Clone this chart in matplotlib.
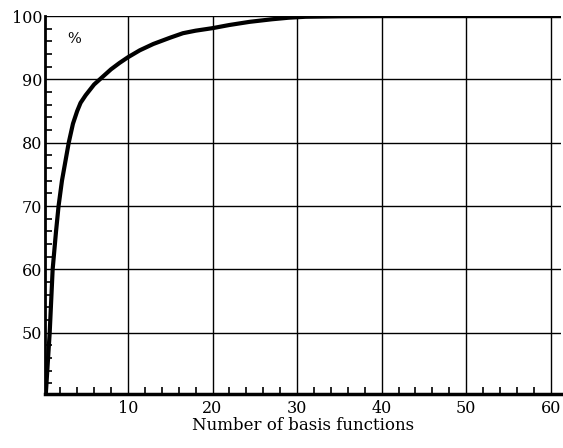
import numpy as np
import matplotlib.pyplot as plt
from matplotlib.ticker import MultipleLocator

# cumulative percentage vs number of basis functions
n_basis = [0.3, 0.75, 1.1, 1.5, 1.8, 2.2, 2.6, 3.0, 3.5, 4.0, 4.4, 5, 6, 7, 8, 9, 10,
           11.4, 13, 15, 16.5, 18, 20, 22, 24.4, 27, 29, 31, 35, 40, 50, 61.2]
percent = [40.5, 50, 60, 66, 70, 74, 77, 80, 83, 85, 86.3, 87.5, 89.2, 90.4, 91.6, 92.6, 93.5,
           94.6, 95.6, 96.6, 97.3, 97.7, 98.1, 98.6, 99.1, 99.5, 99.75, 99.9, 99.97, 100, 100, 100]

x_ticks = [10, 20, 30, 40, 50, 60]
y_ticks = [50, 60, 70, 80, 90, 100]

plt.rcParams['font.family'] = ['DejaVu Serif']

fig = plt.figure(figsize=(5.63, 4.48), dpi=100)
ax = fig.add_axes([0.080, 0.1205, 0.9164, 0.8435])

ax.plot(n_basis, percent, color='black', lw=3.0, solid_capstyle='round', zorder=3)

ax.set_xlim(0.2, 61.2)
ax.set_ylim(40.3, 100)
ax.set_xticks(x_ticks)
ax.set_yticks(y_ticks)
ax.xaxis.set_minor_locator(MultipleLocator(2))
ax.yaxis.set_minor_locator(MultipleLocator(2))
ax.grid(True, which='major', color='black', lw=1.0)

ax.tick_params(which='major', length=0, labelsize=11.5, pad=4)
ax.tick_params(axis='y', which='major', pad=2)
ax.tick_params(which='minor', direction='in', length=5, width=1.2,
               top=False, right=False)

for side in ['top', 'right']:
    ax.spines[side].set_visible(False)
ax.spines['left'].set_linewidth(2)
ax.spines['bottom'].set_linewidth(2.5)

ax.set_xlabel('Number of basis functions', fontsize=12, labelpad=0)
ax.text(0.044, 0.94, '%', transform=ax.transAxes, fontsize=10.5, va='center')

fig.savefig('out.png', dpi=100)
